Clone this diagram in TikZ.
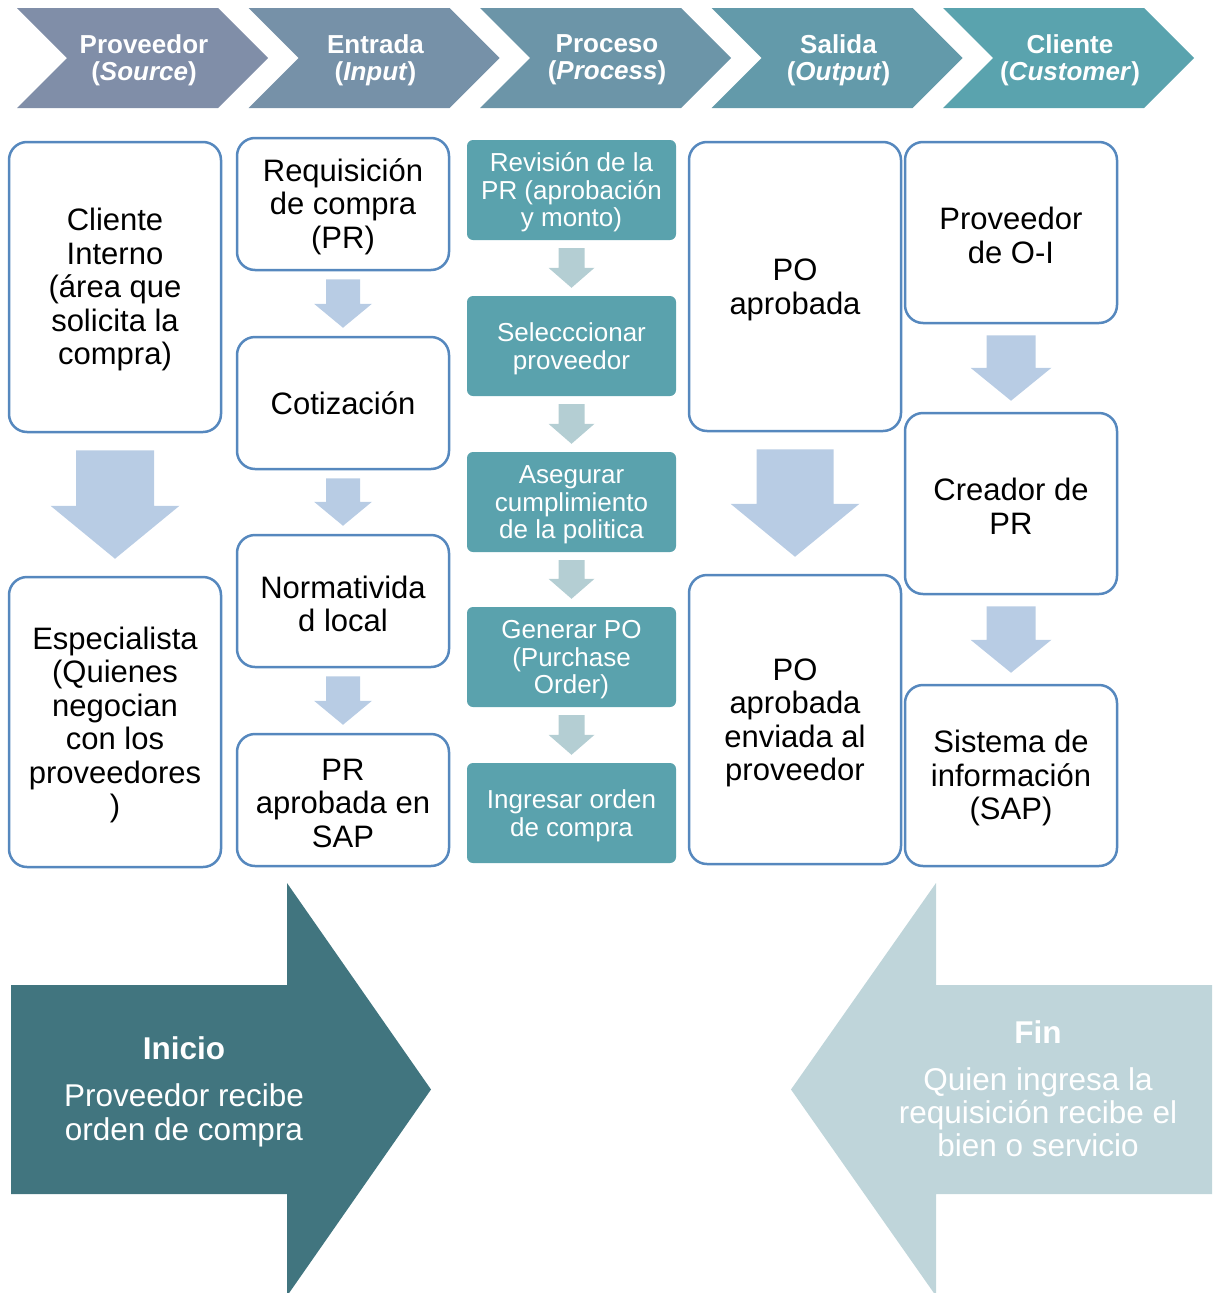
\documentclass[tikz,border=0pt]{standalone}
\usepackage{fontspec}
\setmainfont{Liberation Sans}
\usetikzlibrary{calc}
\definecolor{chA}{RGB}{128,142,168}
\definecolor{chB}{RGB}{118,145,168}
\definecolor{chC}{RGB}{108,149,168}
\definecolor{chD}{RGB}{99,154,170}
\definecolor{chE}{RGB}{90,163,174}
\definecolor{boxblue}{RGB}{86,136,190}
\definecolor{arrblue}{RGB}{184,204,228}
\definecolor{tealbox}{RGB}{90,162,173}
\definecolor{tealarr}{RGB}{180,206,211}
\definecolor{inicol}{RGB}{65,117,127}
\definecolor{fincol}{RGB}{191,213,218}
\newcommand{\tp}{\rule{0pt}{28pt}}
\newcommand{\tq}{\rule{0pt}{24pt}}
\newcommand{\blk}[7]{%
  \fill[#7] ($(#1.south)+(-#3,#6)$) -- ($(#1.south)+(#3,#6)$)
    -- ($(#2.north)+(#3,-#6-#5)$) -- ($(#2.north)+(#4,-#6-#5)$)
    -- ($(#2.north)+(0,-#6)$) -- ($(#2.north)+(-#4,-#6-#5)$)
    -- ($(#2.north)+(-#3,-#6-#5)$) -- cycle;}
\begin{document}
\begin{tikzpicture}[x=1pt,y=-1pt,
  wbox/.style={draw=boxblue, line width=2.5pt, rounded corners=18pt, fill=white,
    minimum width=212pt, inner sep=0pt, align=center,
    font=\fontsize{31}{33.5}\selectfont},
  tbox/.style={fill=tealbox, rounded corners=6pt, minimum width=209pt,
    minimum height=100pt, inner sep=0pt, align=center, text=white,
    font=\fontsize{26}{27.5}\selectfont},
  chevtext/.style={text=white, align=center, inner sep=0pt,
    font=\fontsize{26}{27}\selectfont\bfseries},
  bigtext/.style={text=white, align=center, inner sep=0pt,
    font=\fontsize{31.5}{33}\selectfont}]
\useasboundingbox (0,0) rectangle (1215,1293);
% chevrons
\foreach \i/\c in {0/chA,1/chB,2/chC,3/chD,4/chE}{
  \fill[\c] ({17+231.5*\i},8) -- ({218+231.5*\i},8) -- ({268+231.5*\i},58)
    -- ({218+231.5*\i},108) -- ({17+231.5*\i},108) -- ({67+231.5*\i},58) -- cycle;
}
\node[chevtext] (h1) at (144,60) {Proveedor\\(\textit{Source})};
\node[chevtext] (h2) at (375.5,60) {Entrada\\(\textit{Input})};
\node[chevtext] (h3) at (607,60) {Proceso\\(\textit{Process})};
\node[chevtext] (h4) at (838.5,60) {Salida\\(\textit{Output})};
\node[chevtext] (h5) at (1070,60) {Cliente\\(\textit{Customer})};
% column 1
\node[wbox, minimum height=290pt] (A1) at (115,287) {\tp Cliente\\Interno\\(área que\\solicita la\\compra)};
\node[wbox, minimum height=290pt] (A2) at (115,722) {\tp Especialista\\(Quienes\\negocian\\con los\\proveedores\\)};
% column 2
\node[wbox, minimum height=132pt] (B1) at (343,204) {\tp Requisición\\de compra\\(PR)};
\node[wbox, minimum height=132pt] (B2) at (343,403) {Cotización};
\node[wbox, minimum height=132pt] (B3) at (343,601) {\tp Normativida\\d local};
\node[wbox, minimum height=132pt] (B4) at (343,800) {\tp PR\\aprobada en\\SAP};
% column 3
\node[tbox] (C1) at (571.5,190) {\tq Revisión de la\\PR (aprobación\\y monto)};
\node[tbox] (C2) at (571.5,346) {\tq Selecccionar\\proveedor};
\node[tbox] (C3) at (571.5,502) {\tq Asegurar\\cumplimiento\\de la politica};
\node[tbox] (C4) at (571.5,657) {\tq Generar PO\\(Purchase\\Order)};
\node[tbox] (C5) at (571.5,813) {\tq Ingresar orden\\de compra};
% column 4
\node[wbox, minimum height=289pt] (D1) at (795,286.5) {\tp PO\\aprobada};
\node[wbox, minimum height=289pt] (D2) at (795,719.5) {\tp PO\\aprobada\\enviada al\\proveedor};
% column 5
\node[wbox, minimum height=181pt] (E1) at (1011,232.5) {\tp Proveedor\\de O-I};
\node[wbox, minimum height=181pt] (E2) at (1011,503.5) {\tp Creador de\\PR};
\node[wbox, minimum height=181pt] (E3) at (1011,775.5) {\tp Sistema de\\información\\(SAP)};
% block arrows
\blk{A1}{A2}{39}{64.5}{53}{17}{arrblue}
\blk{D1}{D2}{38.5}{64.5}{53}{17}{arrblue}
\blk{B1}{B2}{17}{29}{24}{8}{arrblue}
\blk{B2}{B3}{17}{29}{24}{8}{arrblue}
\blk{B3}{B4}{17}{29}{24}{8}{arrblue}
\blk{C1}{C2}{13}{23}{20}{8}{tealarr}
\blk{C2}{C3}{13}{23}{20}{8}{tealarr}
\blk{C3}{C4}{13}{23}{20}{8}{tealarr}
\blk{C4}{C5}{13}{23}{20}{8}{tealarr}
\blk{E1}{E2}{24.5}{40.5}{33}{11}{arrblue}
\blk{E2}{E3}{24.5}{40.5}{33}{11}{arrblue}
% bottom arrows
\fill[inicol] (11,985) -- (287,985) -- (287,883) -- (431,1089.5) -- (287,1296)
  -- (287,1194) -- (11,1194) -- cycle;
\fill[fincol] (1212,985) -- (936,985) -- (936,883) -- (791,1089.5) -- (936,1296)
  -- (936,1194) -- (1212,1194) -- cycle;
\node[bigtext, font=\fontsize{31.5}{34}\selectfont] (ini) at (184,1091.5) {\textbf{Inicio}\\[13pt]Proveedor recibe\\orden de compra};
\node[bigtext] (fin) at (1038,1088.5) {\textbf{Fin}\\[14pt]Quien ingresa la\\requisición recibe el\\bien o servicio};
\end{tikzpicture}
\end{document}
